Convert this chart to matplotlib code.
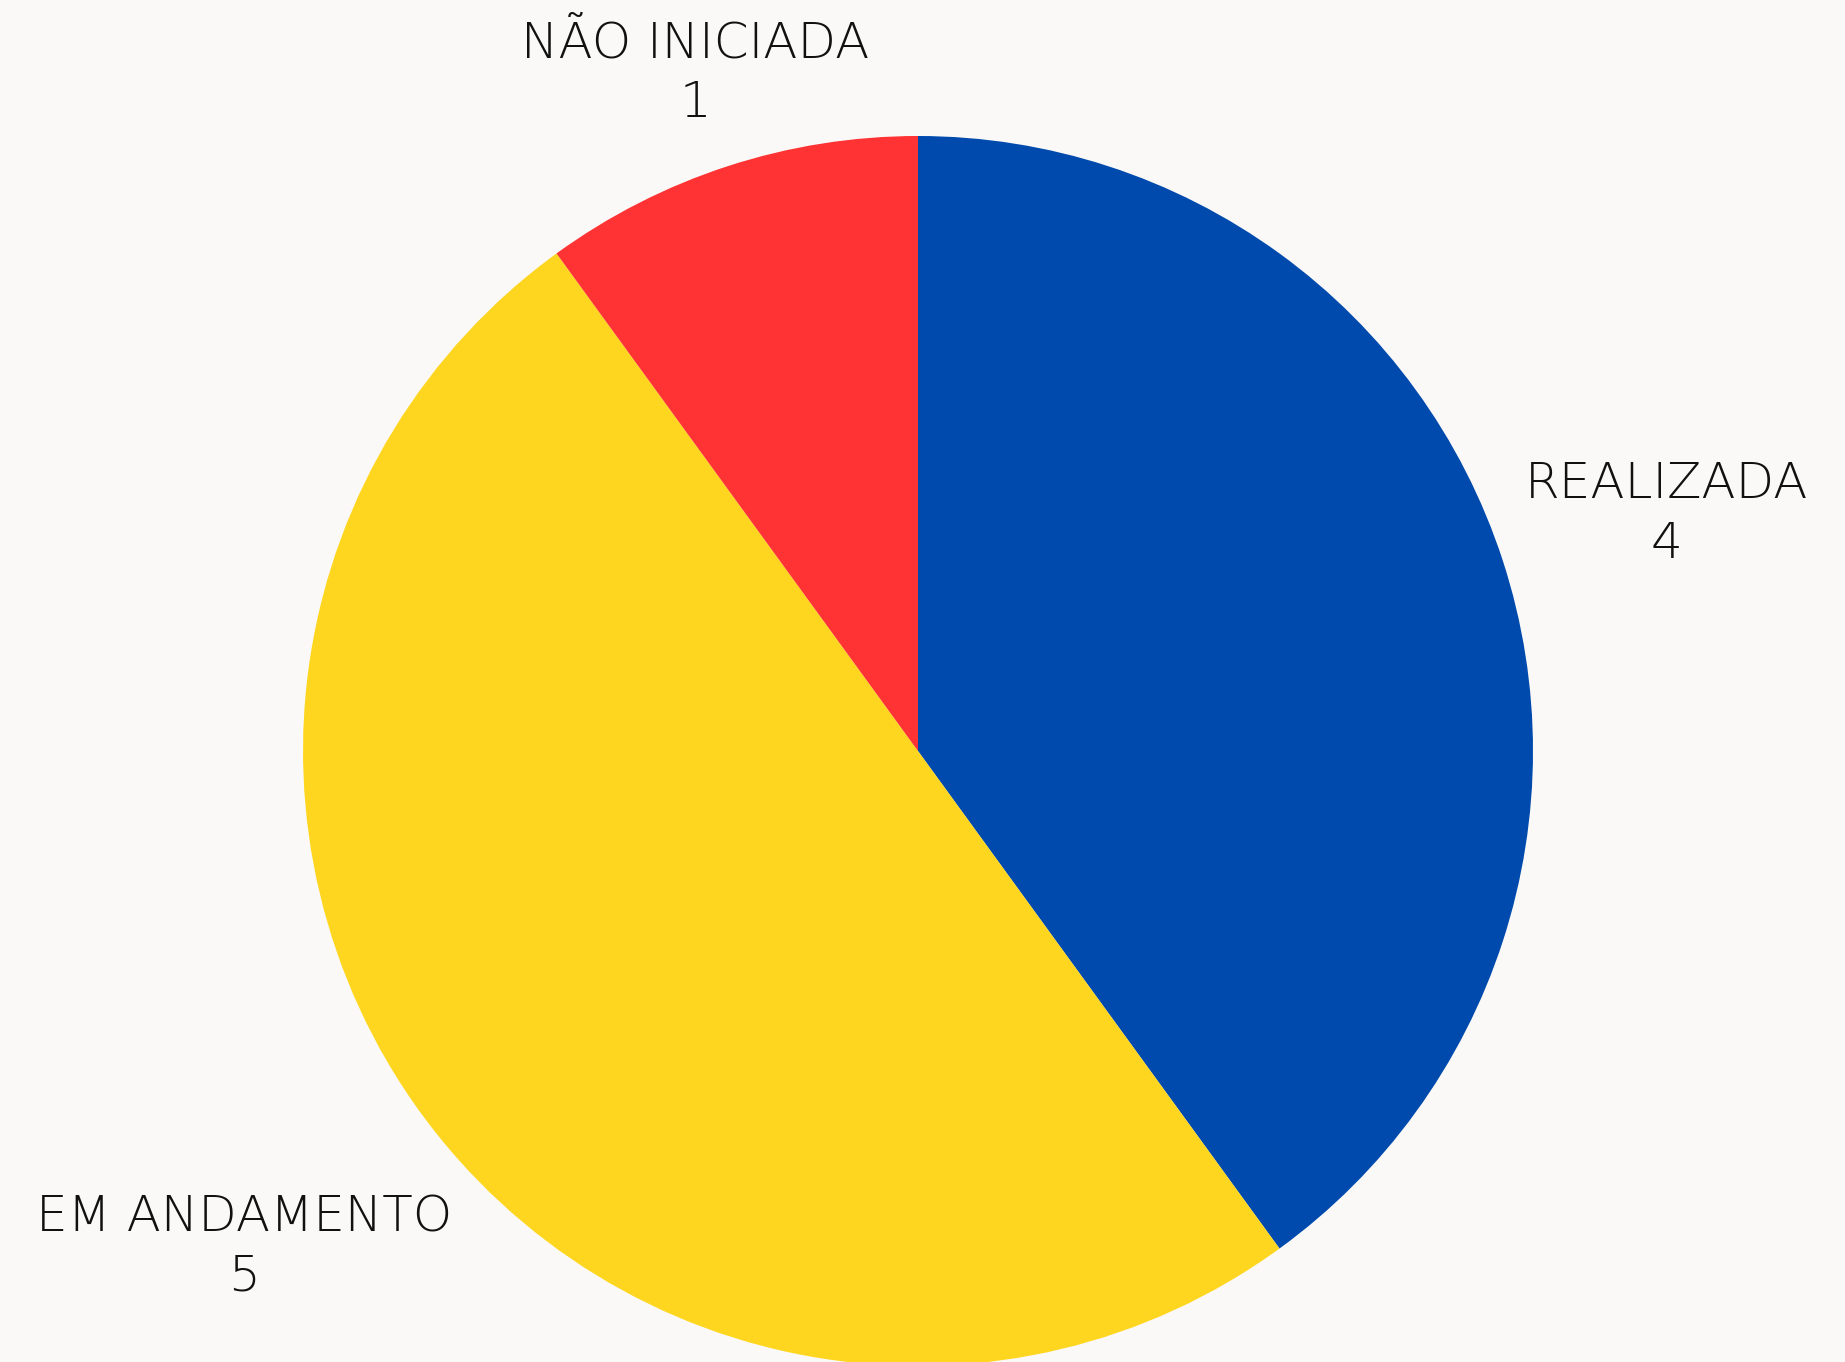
import numpy as np
import matplotlib.pyplot as plt

# data
labels = ['REALIZADA', 'EM ANDAMENTO', 'NÃO INICIADA']
values = [4, 5, 1]
colors = ['#004AAD', '#FFD61F', '#FF3333']
label_dist = [1.28, 1.355, 1.17]

bg = '#FAF9F7'

fig = plt.figure(figsize=(18.45, 13.62), dpi=100, facecolor=bg)
ax = fig.add_axes([0, 0, 1, 1])
ax.set_facecolor(bg)

wedges, _ = ax.pie(values, colors=colors, startangle=90, counterclock=False,
                   radius=1.0, center=(0, 0), frame=False)

# labels outside each slice, along the slice's mid angle
total = sum(values)
start = 90.0
for lab, v, d in zip(labels, values, label_dist):
    span = 360.0 * v / total
    mid = np.deg2rad(start - span / 2)
    start -= span
    ax.text(d * np.cos(mid), d * np.sin(mid) - 0.01, f'{lab}\n{v}',
            ha='center', va='center', fontsize=36, fontweight='light',
            family='DejaVu Sans', color='#111111', linespacing=1.3)

ax.set_xlim(-918 / 615, (1845 - 918) / 615)
ax.set_ylim(-(1362 - 751) / 615, 751 / 615)
ax.set_aspect('auto')
ax.axis('off')

fig.savefig('out.png', dpi=100, facecolor=bg)
